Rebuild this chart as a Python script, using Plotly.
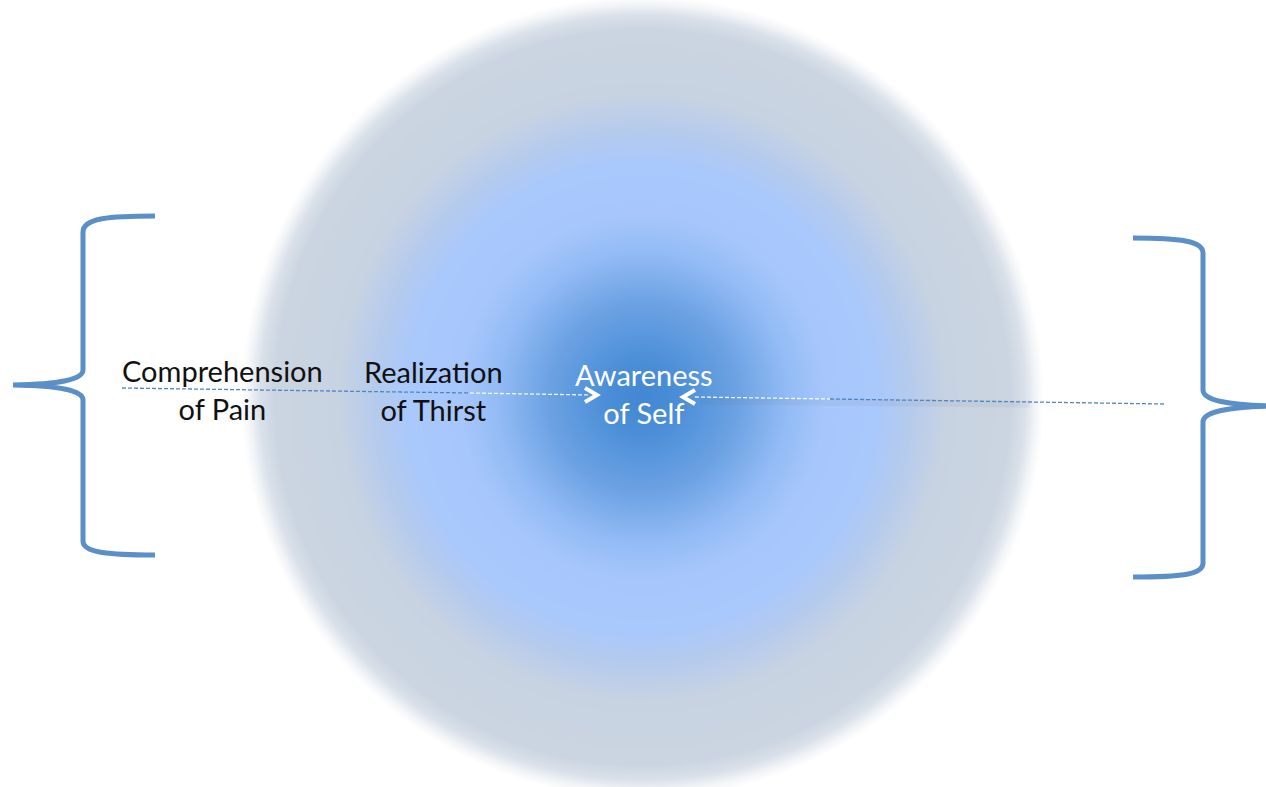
import numpy as np
import plotly.graph_objects as go

W, H = 1266, 787

# radial glow: distance from centre (px) -> colour
glow_radius = [0, 35, 95, 145, 185, 235, 270, 305, 368, 382, 393, 401, 460]
glow_color = ["#4387d3", "#4a8ed7", "#6ca2e3", "#93bbf5", "#a7c7fc", "#a9c8fb",
              "#b6cbec", "#c8d3e2", "#cbd5e1", "#d9e0e9", "#f2f4f7", "#ffffff", "#ffffff"]
glow_centre = (642, 397)

# labels along the axis (outer -> inner)
labels = ["Comprehension<br>of Pain", "Realization<br>of Thirst", "Awareness<br>of Self"]
label_x = [222, 433, 644]
label_y = [389, 390, 393]
label_color = ["#111111", "#111111", "#ffffff"]

BRACE = "#5b8fc7"
DASH_BLUE = "#4f86c6"

# distance field for the heatmap
step = 4
xs = np.arange(0, W + step, step)
ys = np.arange(0, H + step, step)
gx, gy = np.meshgrid(xs, ys)
dist = np.sqrt((gx - glow_centre[0]) ** 2 + (gy - glow_centre[1]) ** 2)
rmax = glow_radius[-1]
dist = np.clip(dist, 0, rmax).round(1)
scale = [[r / rmax, c] for r, c in zip(glow_radius, glow_color)]

fig = go.Figure()
fig.add_trace(go.Heatmap(x=xs, y=ys, z=dist, zmin=0, zmax=rmax, colorscale=scale,
                         zsmooth="best", showscale=False, hoverinfo="skip"))

# faint shadow under the right-hand dashed line
fig.add_trace(go.Scatter(x=[700, 1030], y=[401, 404], mode="lines",
                         line=dict(color="rgba(90,100,120,0.07)", width=7),
                         hoverinfo="skip"))

# dashed connectors
fig.add_trace(go.Scatter(x=[122, 470], y=[388, 393], mode="lines",
                         line=dict(color=DASH_BLUE, width=1.3, dash="4px,2px"), hoverinfo="skip"))
fig.add_trace(go.Scatter(x=[470, 590], y=[393, 395], mode="lines",
                         line=dict(color="rgba(255,255,255,0.9)", width=1.3, dash="4px,2px"), hoverinfo="skip"))
fig.add_trace(go.Scatter(x=[695, 830], y=[397, 399], mode="lines",
                         line=dict(color="rgba(255,255,255,0.9)", width=1.3, dash="4px,2px"), hoverinfo="skip"))
fig.add_trace(go.Scatter(x=[830, 1165], y=[399, 404], mode="lines",
                         line=dict(color=DASH_BLUE, width=1.3, dash="4px,2px"), hoverinfo="skip"))

# chevron arrow heads
fig.add_trace(go.Scatter(x=[585, 597, 585], y=[388, 395, 402], mode="lines",
                         line=dict(color="white", width=4), hoverinfo="skip"))
fig.add_trace(go.Scatter(x=[695, 683, 695], y=[390, 397, 404], mode="lines",
                         line=dict(color="white", width=4), hoverinfo="skip"))

for t, x, y, c in zip(labels, label_x, label_y, label_color):
    fig.add_annotation(x=x, y=y, text=t, showarrow=False, xanchor="center", yanchor="middle",
                       font=dict(family="Lato, sans-serif", size=29, color=c))

left_brace = ("M 155,216 C 110,216 83,218 83,232 L 83,370 "
              "Q 83,384 13,385 Q 83,386 83,400 L 83,541 C 83,553 110,555 155,555")
right_brace = ("M 1133,238 C 1180,238 1203,241 1203,253 L 1203,390 "
               "Q 1203,405 1275,406 Q 1203,407 1203,422 L 1203,563 C 1203,575 1180,577 1133,577")
for p in (left_brace, right_brace):
    fig.add_shape(type="path", path=p, line=dict(color=BRACE, width=5))

fig.update_layout(
    width=W, height=H, margin=dict(l=0, r=0, t=0, b=0),
    paper_bgcolor="white", plot_bgcolor="white", showlegend=False,
    xaxis=dict(range=[0, W], visible=False, fixedrange=True),
    yaxis=dict(range=[H, 0], visible=False, fixedrange=True),
)

fig.write_html("out.html", config={"displayModeBar": False},
               post_script="document.body.style.margin='0';")
